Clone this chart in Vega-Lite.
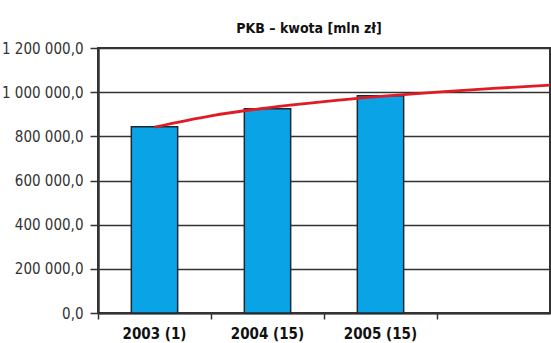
{
  "$schema": "https://vega.github.io/schema/vega-lite/v6.json",
  "width": 452,
  "height": 265,
  "autosize": {"type": "none"},
  "padding": {"left": 98, "top": 48, "right": 1, "bottom": 30},
  "background": "white",
  "config": {
    "locale": {"number": {"decimal": ",", "thousands": " ", "grouping": [3], "currency": ["", ""]}},
    "font": "DejaVu Sans Condensed",
    "view": {"stroke": "#333", "strokeWidth": 2}
  },
  "title": {
    "text": "PKB – kwota [mln zł]",
    "font": "DejaVu Sans Condensed",
    "fontSize": 14,
    "fontWeight": "bold",
    "color": "#111",
    "anchor": "middle",
    "dx": -15,
    "offset": 5
  },
  "layer": [
    {
      "data": {"values": [
        {"rok": "2003 (1)", "pkb": 843156},
        {"rok": "2004 (15)", "pkb": 924538},
        {"rok": "2005 (15)", "pkb": 983302}
      ]},
      "mark": {"type": "bar", "width": {"band": 0.41}, "color": "#0aa4e6", "stroke": "#1c2733", "strokeWidth": 1.5},
      "encoding": {
        "x": {
          "field": "rok", "type": "nominal", "sort": null,
          "scale": {"domain": ["2003 (1)", "2004 (15)", "2005 (15)", " "], "paddingInner": 0, "paddingOuter": 0},
          "axis": {"title": null, "labelAngle": 0, "labelFontSize": 15, "labelFontWeight": "bold", "labelColor": "#111",
                   "labelFont": "DejaVu Sans Condensed",
                   "domainColor": "#333", "domainWidth": 2, "tickColor": "#333", "tickWidth": 1.5, "tickSize": 6,
                   "bandPosition": 0, "labelPadding": 7, "grid": false}
        },
        "y": {
          "field": "pkb", "type": "quantitative",
          "scale": {"domain": [0, 1200000]},
          "axis": {"title": null, "values": [0, 200000, 400000, 600000, 800000, 1000000, 1200000], "format": ",.1f",
                   "labelFontSize": 15, "labelColor": "#333", "labelPadding": 7, "labelFont": "DejaVu Sans Condensed",
                   "domainColor": "#333", "domainWidth": 2.5, "tickColor": "#333", "tickWidth": 1.5, "tickSize": 8,
                   "grid": true, "gridColor": "#333", "gridWidth": 1.5, "gridOpacity": 1}
        }
      }
    },
    {
      "data": {"values": [
        {"t": 1.0, "trend": 841500},
        {"t": 1.5, "trend": 892800},
        {"t": 2.0, "trend": 929200},
        {"t": 2.5, "trend": 957400},
        {"t": 3.0, "trend": 980500},
        {"t": 3.5, "trend": 1000000},
        {"t": 4.0, "trend": 1016900},
        {"t": 4.5, "trend": 1031800}
      ]},
      "mark": {"type": "line", "color": "#e01b24", "strokeWidth": 2.8, "interpolate": "monotone"},
      "encoding": {
        "x": {"field": "t", "type": "quantitative", "scale": {"domain": [0.5, 4.5], "nice": false, "zero": false}, "axis": null},
        "y": {"field": "trend", "type": "quantitative"}
      }
    }
  ],
  "resolve": {"scale": {"x": "independent"}}
}
